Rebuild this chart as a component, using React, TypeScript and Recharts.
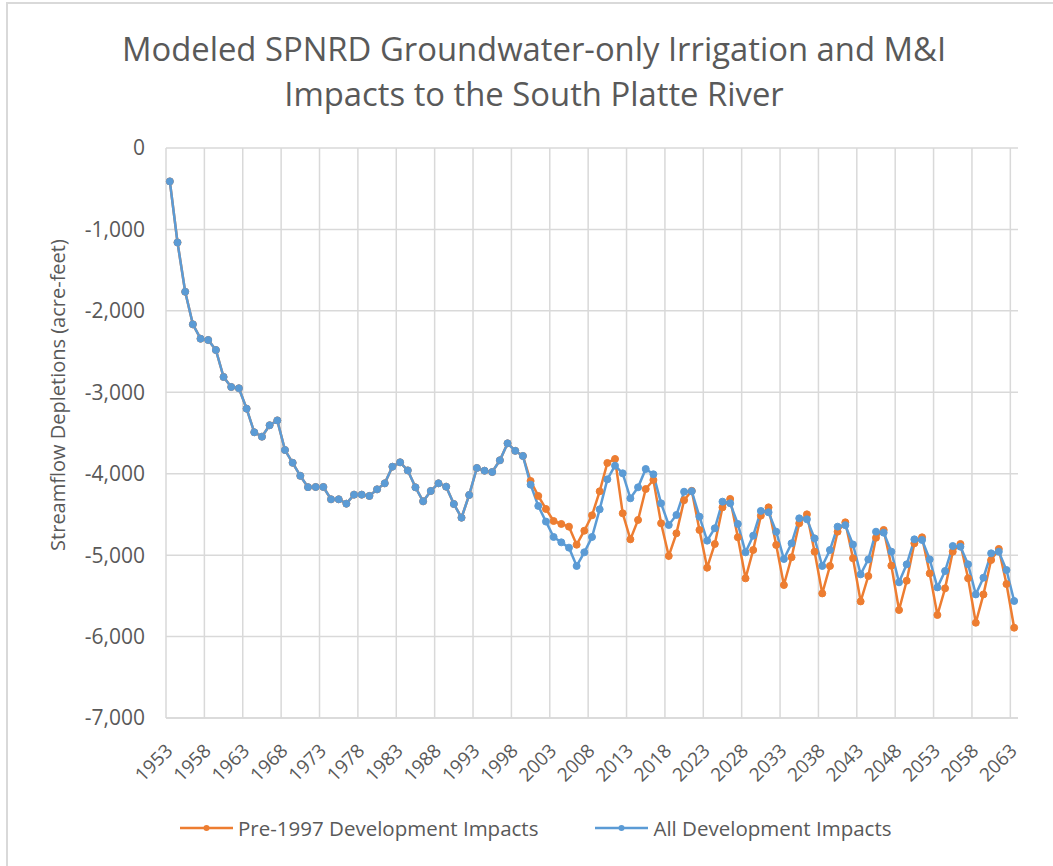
import React from 'react';
import { LineChart, Line, XAxis, YAxis, CartesianGrid, Legend, Label } from 'recharts';

// model years 1953-2063 (categories)
const years: number[] = Array.from({ length: 111 }, (_, i) => 1953 + i);

// All development impacts (acre-feet)
const allDev: number[] = [
  -410, -1160, -1765, -2166, -2342, -2358, -2481, -2812, -2935, -2951,
  -3201, -3491, -3545, -3405, -3345, -3709, -3866, -4026, -4165, -4163,
  -4163, -4314, -4314, -4368, -4257, -4257, -4273, -4192, -4118, -3914,
  -3860, -3959, -4167, -4339, -4212, -4118, -4159, -4372, -4540, -4261,
  -3930, -3963, -3979, -3835, -3627, -3719, -3782, -4134, -4396, -4588,
  -4777, -4843, -4908, -5133, -4965, -4777, -4437, -4069, -3901, -3995,
  -4302, -4167, -3942, -4007, -4364, -4630, -4507, -4221, -4215, -4527,
  -4822, -4670, -4343, -4363, -4617, -4965, -4761, -4457, -4474, -4712,
  -5047, -4855, -4548, -4560, -4794, -5133, -4937, -4650, -4632, -4869,
  -5236, -5052, -4712, -4724, -4957, -5334, -5113, -4806, -4814, -5052,
  -5396, -5195, -4888, -4896, -5113, -5482, -5277, -4978, -4957, -5183,
  -5563,
];

// Pre-1997 development impacts (acre-feet)
const pre1997: number[] = [
  -410, -1160, -1765, -2166, -2342, -2358, -2481, -2812, -2935, -2951,
  -3201, -3491, -3545, -3405, -3345, -3709, -3866, -4026, -4165, -4163,
  -4163, -4314, -4314, -4368, -4257, -4257, -4273, -4192, -4118, -3914,
  -3860, -3959, -4167, -4339, -4212, -4118, -4159, -4372, -4540, -4261,
  -3930, -3963, -3979, -3835, -3627, -3719, -3782, -4089, -4273, -4433,
  -4581, -4617, -4650, -4872, -4700, -4511, -4216, -3868, -3819, -4486,
  -4806, -4568, -4188, -4077, -4609, -5010, -4732, -4325, -4210, -4691,
  -5154, -4863, -4413, -4310, -4781, -5285, -4937, -4515, -4413, -4875,
  -5367, -5026, -4609, -4499, -4957, -5470, -5133, -4712, -4597, -5039,
  -5568, -5257, -4786, -4691, -5129, -5674, -5314, -4855, -4781, -5224,
  -5735, -5408, -4957, -4863, -5285, -5830, -5482, -5060, -4924, -5355,
  -5891,
];

const seriesNames = ['Pre-1997 Development Impacts', 'All Development Impacts'];

const xTicks = [1953, 1958, 1963, 1968, 1973, 1978, 1983, 1988, 1993, 1998, 2003, 2008,
  2013, 2018, 2023, 2028, 2033, 2038, 2043, 2048, 2053, 2058, 2063];
const yTicks = [0, -1000, -2000, -3000, -4000, -5000, -6000, -7000];

const data = years.map((year, i) => ({ year, pre: pre1997[i], all: allDev[i] }));
// gridlines sit between categories, like Excel's "between tick marks"
const gridYears = xTicks.map((t) => t - 0.5);

const FONT = '"Open Sans", sans-serif';
const TEXT = '#595959';
const GRID = '#d9d9d9';
const ORANGE = '#ED7D31';
const BLUE = '#5B9BD5';

const XTick = (props: any) => {
  const { x, y, payload } = props;
  return (
    <text
      transform={`translate(${x + 4},${y + 34}) rotate(-45)`}
      textAnchor="end"
      fill={TEXT}
      fontSize={19}
      fontFamily={FONT}
    >
      {payload.value}
    </text>
  );
};

const LegendContent = (props: any) => {
  const items = [...(props.payload || [])].sort(
    (a: any, b: any) => seriesNames.indexOf(a.value) - seriesNames.indexOf(b.value)
  );
  return (
    <div style={{ display: 'flex', alignItems: 'center', height: 30, paddingLeft: 180, fontFamily: FONT }}>
      {items.map((entry: any) => (
        <div key={entry.value} style={{ display: 'flex', alignItems: 'center', marginRight: 57 }}>
          <svg width={53} height={12} style={{ marginRight: 5 }}>
            <line x1={0} y1={6} x2={53} y2={6} stroke={entry.color} strokeWidth={2.5} />
            <circle cx={26.5} cy={6} r={3} fill={entry.color} />
          </svg>
          <span style={{ color: TEXT, fontSize: 20.5 }}>{entry.value}</span>
        </div>
      ))}
    </div>
  );
};

export default function App() {
  return (
    <div style={{ position: 'absolute', left: 0, top: 0, width: 1053, height: 866, background: '#fff', overflow: 'hidden' }}>
      <div style={{
        position: 'absolute', left: 6, top: 2, width: 1047, height: 864,
        borderTop: `2px solid ${GRID}`, borderLeft: `2px solid ${GRID}`, boxSizing: 'border-box',
      }} />
      <div style={{
        position: 'absolute', left: 34, top: 26, width: 1000, textAlign: 'center',
        fontFamily: FONT, fontSize: 32.8, lineHeight: '45px', color: TEXT,
      }}>
        Modeled SPNRD Groundwater-only Irrigation and M&amp;I<br />
        Impacts to the South Platte River
      </div>
      <div style={{ position: 'absolute', left: 0, top: 0 }}>
        <LineChart
          width={1053}
          height={866}
          data={data}
          margin={{ top: 148, right: 35, bottom: 23, left: 0 }}
        >
          <CartesianGrid stroke={GRID} strokeWidth={1.5} verticalValues={gridYears} />
          <XAxis
            dataKey="year"
            type="number"
            domain={[1952.5, 2063.5]}
            ticks={xTicks}
            interval={0}
            height={95}
            axisLine={{ stroke: GRID, strokeWidth: 1.5 }}
            tickLine={false}
            tickSize={0}
            tickMargin={0}
            tick={<XTick />}
          />
          <YAxis
            width={166}
            domain={[-7000, 0]}
            ticks={yTicks}
            interval={0}
            axisLine={false}
            tickLine={false}
            tickSize={0}
            tickMargin={21}
            tick={{ fill: TEXT, fontSize: 21, fontFamily: FONT }}
            tickFormatter={(v: number) => v.toLocaleString('en-US')}
          >
            <Label
              content={() => (
                <text
                  x={57}
                  y={395}
                  transform="rotate(-90 57 395)"
                  textAnchor="middle"
                  dominantBaseline="central"
                  fill={TEXT}
                  fontSize={20}
                  fontFamily={FONT}
                >
                  Streamflow Depletions (acre-feet)
                </text>
              )}
            />
          </YAxis>
          <Legend verticalAlign="bottom" content={<LegendContent />} />
          <Line
            dataKey="pre"
            name={seriesNames[0]}
            stroke={ORANGE}
            strokeWidth={2.5}
            dot={{ r: 3.5, fill: ORANGE, stroke: ORANGE, strokeWidth: 1 }}
            isAnimationActive={false}
          />
          <Line
            dataKey="all"
            name={seriesNames[1]}
            stroke={BLUE}
            strokeWidth={2.5}
            dot={{ r: 3.5, fill: BLUE, stroke: BLUE, strokeWidth: 1 }}
            isAnimationActive={false}
          />
        </LineChart>
      </div>
    </div>
  );
}
